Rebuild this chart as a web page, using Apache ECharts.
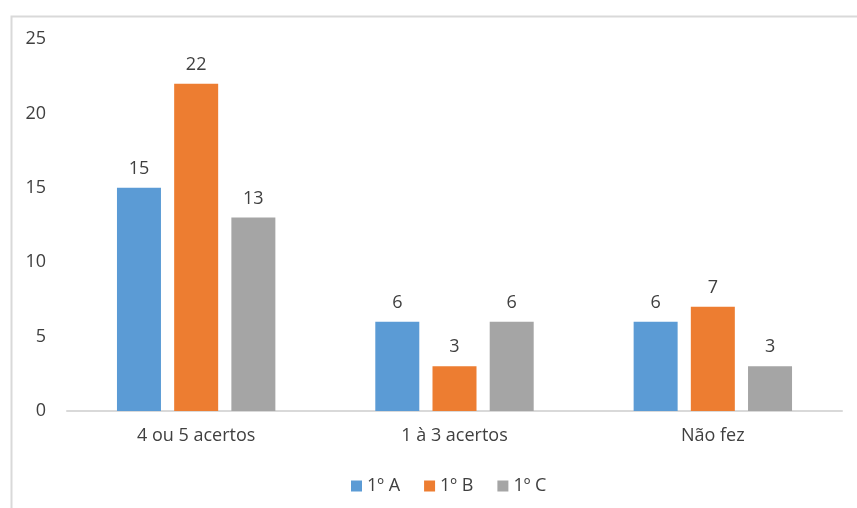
<!DOCTYPE html>
<html>
<head>
<meta charset="utf-8">
<style>
  html, body { margin: 0; padding: 0; background: #ffffff; }
  #chart { width: 857px; height: 508px; }
</style>
<script src="https://cdn.jsdelivr.net/npm/echarts@6/dist/echarts.min.js"></script>
</head>
<body>
<div id="chart"></div>
<script>
const categories = ['4 ou 5 acertos', '1 à 3 acertos', 'Não fez'];
const seriesNames = ['1º A', '1º B', '1º C'];
const valuesA = [15, 6, 6];
const valuesB = [22, 3, 7];
const valuesC = [13, 6, 3];
const colors = ['#5B9BD5', '#ED7D31', '#A5A5A5'];

const fontFamily = '"Open Sans", "Noto Sans", sans-serif';
const textColor = '#404040';
const fontSize = 18;

const chart = echarts.init(document.getElementById('chart'), null, { renderer: 'canvas' });

const makeSeries = (name, data, color) => ({
  name: name,
  type: 'bar',
  data: data,
  barWidth: 44,
  barGap: '30%',
  itemStyle: { color: color },
  label: {
    show: true,
    position: 'top',
    distance: 10,
    color: textColor,
    fontSize: fontSize,
    fontFamily: fontFamily
  },
  emphasis: { disabled: true }
});

chart.setOption({
  animation: false,
  backgroundColor: '#ffffff',
  graphic: [{
    type: 'rect',
    left: 9,
    top: 14,
    shape: { width: 900, height: 600 },
    style: { fill: 'none', stroke: '#d9d9d9', lineWidth: 2 },
    silent: true
  }],
  grid: { left: 67, right: 15, top: 39, bottom: 97 },
  legend: {
    bottom: 8,
    left: 346,
    itemWidth: 11,
    itemHeight: 11,
    itemGap: 24,
    icon: 'rect',
    textStyle: { color: textColor, fontSize: fontSize, fontFamily: fontFamily },
    data: seriesNames
  },
  xAxis: {
    type: 'category',
    data: categories,
    axisLine: { show: true, lineStyle: { color: '#d9d9d9', width: 2 } },
    axisTick: { show: false },
    axisLabel: { color: textColor, fontSize: fontSize, fontFamily: fontFamily, margin: 16 }
  },
  yAxis: {
    type: 'value',
    min: 0,
    max: 25,
    interval: 5,
    splitLine: { show: false },
    axisLine: { show: false },
    axisTick: { show: false },
    axisLabel: { color: textColor, fontSize: fontSize, fontFamily: fontFamily, margin: 21 }
  },
  series: [
    makeSeries(seriesNames[0], valuesA, colors[0]),
    makeSeries(seriesNames[1], valuesB, colors[1]),
    makeSeries(seriesNames[2], valuesC, colors[2])
  ]
});
</script>
</body>
</html>
